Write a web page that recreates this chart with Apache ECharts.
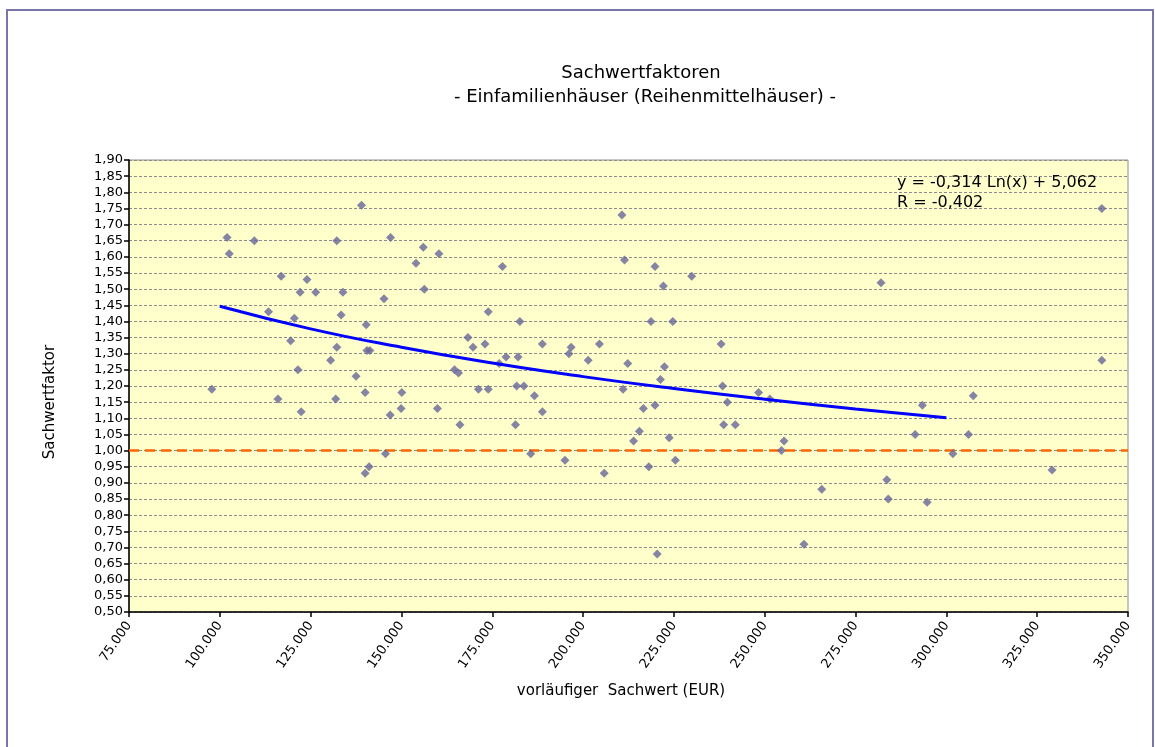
<!DOCTYPE html>
<html>
<head>
<meta charset="utf-8">
<script src="https://cdn.jsdelivr.net/npm/echarts@6/dist/echarts.min.js"></script>
<style>
html,body{margin:0;padding:0;background:#fff;}
#c{width:1155px;height:747px;}
</style>
</head>
<body>
<div id="c"></div>
<script>
// Sachwert (EUR) of each observation
var sachwert = [
 139000,102000,109500,102600,132200,147000,156000,160300,154000,116900,
 124000,122100,126400,133900,156300,145200,113400,120500,133400,140300,
 168300,119500,132200,140500,141300,130500,121500,164600,165700,137500,
 97800,140000,150100,116000,131900,149900,159900,122400,146900,166100,
 145600,140000,141100,
 210700,211400,177800,219800,229900,222100,173900,182600,218700,224700,
 169700,173000,188800,196700,196100,204500,238000,201400,176900,178800,
 182100,212300,222400,221300,171200,173900,181700,183700,211000,238400,
 186600,248300,251400,239700,216600,219800,188800,181400,238700,241900,
 215500,223700,213900,255300,254600,185600,195000,225400,218100,205800,
 220400,
 342800,282000,342800,307400,293400,291400,306100,301800,329100,283600,
 265700,284000,294700,260800
];
// Sachwertfaktor of each observation
var faktor = [
 1.76,1.66,1.65,1.61,1.65,1.66,1.63,1.61,1.58,1.54,
 1.53,1.49,1.49,1.49,1.50,1.47,1.43,1.41,1.42,1.39,
 1.35,1.34,1.32,1.31,1.31,1.28,1.25,1.25,1.24,1.23,
 1.19,1.18,1.18,1.16,1.16,1.13,1.13,1.12,1.11,1.08,
 0.99,0.93,0.95,
 1.73,1.59,1.57,1.57,1.54,1.51,1.43,1.40,1.40,1.40,
 1.32,1.33,1.33,1.32,1.30,1.33,1.33,1.28,1.27,1.29,
 1.29,1.27,1.26,1.22,1.19,1.19,1.20,1.20,1.19,1.20,
 1.17,1.18,1.16,1.15,1.13,1.14,1.12,1.08,1.08,1.08,
 1.06,1.04,1.03,1.03,1.00,0.99,0.97,0.97,0.95,0.93,
 0.68,
 1.75,1.52,1.28,1.17,1.14,1.05,1.05,0.99,0.94,0.91,
 0.88,0.85,0.84,0.71
];
// logarithmic trend line as drawn
var trendX = [100000,125000,150000,175000,200000,225000,250000,275000,300000];
var trendY = [1.447,1.377,1.320,1.271,1.229,1.192,1.159,1.129,1.102];
var referenceLevel = 1.00;

var chartTitle = 'Sachwertfaktoren';
var chartSubtitle = '- Einfamilienhäuser (Reihenmittelhäuser) -';
var xTitle = 'vorläufiger  Sachwert (EUR)';
var yTitle = 'Sachwertfaktor';
var equationText = 'y = -0,314 Ln(x) + 5,062';
var rText = 'R = -0,402';

var points = sachwert.map(function(v,i){return [v, faktor[i]];});
var trend = trendX.map(function(v,i){return [v, trendY[i]];});

var FONT = 'DejaVu Sans, Verdana, sans-serif';
var chart = echarts.init(document.getElementById('c'), null, {renderer:'canvas'});
chart.setOption({
  animation:false,
  backgroundColor:'#ffffff',
  grid:{left:129,top:160,right:27,bottom:135,show:true,backgroundColor:'#FFFFCC',borderColor:'#8c8c8c',borderWidth:1},
  xAxis:{
    type:'value',min:75000,max:350000,interval:25000,
    axisLine:{show:true,onZero:false,lineStyle:{color:'#000',width:1.5}},
    axisTick:{show:true,length:5,lineStyle:{color:'#000',width:1.5}},
    splitLine:{show:false},
    axisLabel:{rotate:55,margin:11,color:'#000',fontFamily:FONT,fontSize:13,
      formatter:function(v){return String(Math.round(v)).replace(/\B(?=(\d{3})+(?!\d))/g,'.');}}
  },
  yAxis:{
    type:'value',min:0.5,max:1.9,interval:0.05,
    axisLine:{show:true,onZero:false,lineStyle:{color:'#000',width:1.5}},
    axisTick:{show:true,length:5,lineStyle:{color:'#000',width:1.5}},
    splitLine:{show:true,lineStyle:{color:'#8c8c8c',type:[3,2],width:1}},
    axisLabel:{margin:6,color:'#000',fontFamily:FONT,fontSize:13,
      formatter:function(v){return v.toFixed(2).replace('.',',');}}
  },
  series:[
    {type:'line',data:[[75000,referenceLevel],[350000,referenceLevel]],symbol:'none',silent:true,
     lineStyle:{color:'#FF6600',width:2.5,type:[10,6]},z:2},
    {type:'line',data:trend,smooth:true,symbol:'none',silent:true,
     lineStyle:{color:'#0000FF',width:3},z:4},
    {type:'scatter',data:points,symbol:'diamond',symbolSize:9,
     itemStyle:{color:'#666699'},z:3}
  ],
  graphic:[
    {type:'rect',shape:{x:7,y:10,width:1146,height:780},style:{fill:'none',stroke:'#7777AA',lineWidth:2},silent:true,z:-1},
    {type:'text',x:641,y:73,style:{text:chartTitle,font:'18px '+FONT,fill:'#000',textAlign:'center',textVerticalAlign:'middle'}},
    {type:'text',x:645,y:97,style:{text:chartSubtitle,font:'18px '+FONT,fill:'#000',textAlign:'center',textVerticalAlign:'middle'}},
    {type:'text',x:621,y:691,style:{text:xTitle,font:'15px '+FONT,fill:'#000',textAlign:'center',textVerticalAlign:'middle'}},
    {type:'text',x:50,y:402,rotation:Math.PI/2,style:{text:yTitle,font:'15px '+FONT,fill:'#000',textAlign:'center',textVerticalAlign:'middle'}},
    {type:'text',x:897,y:183,z:10,style:{text:equationText,font:'16px '+FONT,fill:'#000',textAlign:'left',textVerticalAlign:'middle'}},
    {type:'text',x:897,y:203,z:10,style:{text:rText,font:'16px '+FONT,fill:'#000',textAlign:'left',textVerticalAlign:'middle'}}
  ]
});
</script>
</body>
</html>
